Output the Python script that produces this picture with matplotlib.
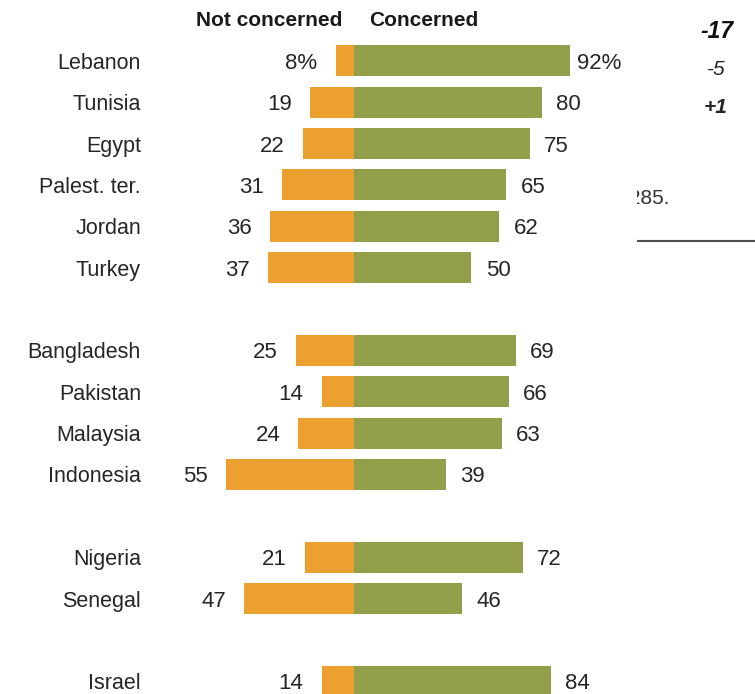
import matplotlib
matplotlib.use("Agg")
import matplotlib.pyplot as plt

countries = ["Lebanon", "Tunisia", "Egypt", "Palest. ter.", "Jordan", "Turkey",
             "Bangladesh", "Pakistan", "Malaysia", "Indonesia",
             "Nigeria", "Senegal", "Israel"]
rows = [0, 1, 2, 3, 4, 5, 7, 8, 9, 10, 12, 13, 15]
not_concerned = [8, 19, 22, 31, 36, 37, 25, 14, 24, 55, 21, 47, 14]
concerned = [92, 80, 75, 65, 62, 50, 69, 66, 63, 39, 72, 46, 84]
nc_labels = ["8%"] + [str(v) for v in not_concerned[1:]]
c_labels = ["92%"] + [str(v) for v in concerned[1:]]
side_changes = ["-17", "-5", "+1"]

ORANGE = "#EBA030"
GREEN = "#929E4A"
TXT = "#262626"

W, H = 755, 694
fig = plt.figure(figsize=(W / 100, H / 100), dpi=100)
ax = fig.add_axes([0, 0, 1, 1])
ax.axis("off")

pxu = 2.34          # pixels per percentage point
cx = 354.3          # center pixel
rowh = 41.37        # pixels per row
y0 = 60.8           # first row center px
ax.set_xlim(-cx / pxu, (W - cx) / pxu)
ax.set_ylim((H - y0) / rowh, -y0 / rowh)

ax.barh(rows, [-v for v in not_concerned], height=0.75, color=ORANGE, lw=0)
ax.barh(rows, concerned, height=0.75, color=GREEN, lw=0)

dy = 2.5 / rowh
for r, name, nc, c, ncl, cl in zip(rows, countries, not_concerned, concerned, nc_labels, c_labels):
    ax.text(-91.2, r + dy, name, ha="right", va="center", fontsize=15.5,
            family="Liberation Sans", color=TXT)
    ax.text(-nc - 18 / pxu, r + dy, ncl, ha="right", va="center", fontsize=16,
            family="Liberation Sans", color=TXT)
    gap = 7 if cl.endswith("%") else 14.5
    ax.text(c + gap / pxu, r + dy, cl, ha="left", va="center", fontsize=16,
            family="Liberation Sans", color=TXT)

# headers
hy = (20.5 - y0) / rowh
ax.text(-12 / pxu, hy, "Not concerned", ha="right", va="center", fontsize=15,
        fontweight="bold", family="Liberation Sans", color="#1a1a1a")
ax.text(15 / pxu, hy, "Concerned", ha="left", va="center", fontsize=15,
        fontweight="bold", family="Liberation Sans", color="#1a1a1a")

# overlay pixel axes for fragments at right
ov = fig.add_axes([0, 0, 1, 1])
ov.axis("off")
ov.set_xlim(0, W)
ov.set_ylim(H, 0)
ov.text(717, 31, side_changes[0], ha="center", va="center", fontsize=16.5,
        fontstyle="italic", fontweight="bold", family="Liberation Sans", color="#111111")
ov.text(716, 69, side_changes[1], ha="center", va="center", fontsize=15,
        fontstyle="italic", family="Liberation Sans", color=TXT)
ov.text(716, 107, side_changes[2], ha="center", va="center", fontsize=15,
        fontstyle="italic", fontweight="bold", family="Liberation Sans", color=TXT)
ov.plot([637, 755], [241, 241], color="#505050", lw=1.5, solid_capstyle="butt")

# clipped note fragment
cl_ax = fig.add_axes([637 / W, 1 - 230 / H, (W - 637) / W, 60 / H])
cl_ax.axis("off")
cl_ax.set_xlim(637, 755)
cl_ax.set_ylim(230, 170)
cl_ax.text(629, 199, "285.", ha="left", va="center", fontsize=15,
           family="Liberation Sans", color="#333333", clip_on=True)

fig.savefig("out.png", dpi=100)
